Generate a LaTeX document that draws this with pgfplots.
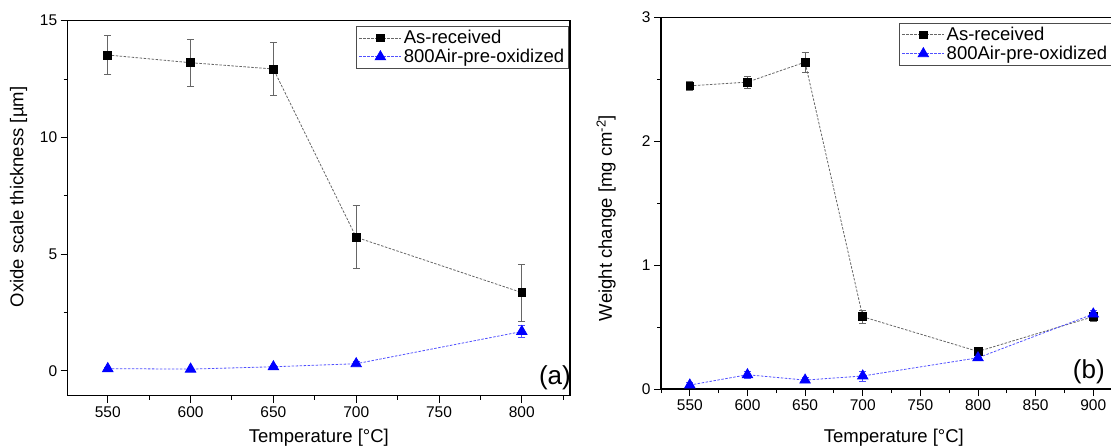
\documentclass[border=0pt]{standalone}
\usepackage{pgfplots}
\usepackage{pgfplotstable}
\pgfplotsset{compat=1.18}
\usepackage{fontspec}
\setmainfont{Liberation Sans}

\pgfplotstableread{
x y ey
550 13.53 0.82
600 13.20 1.00
650 12.93 1.15
700 5.72 1.35
800 3.35 1.22
}\leftA
\pgfplotstableread{
x y ey
550 0.09 0.05
600 0.07 0.05
650 0.17 0.06
700 0.30 0.08
800 1.68 0.25
}\leftB
\pgfplotstableread{
x y ey
550 2.447 0.036
600 2.477 0.047
650 2.638 0.080
700 0.583 0.050
800 0.303 0.020
900 0.584 0.035
}\rightA
\pgfplotstableread{
x y ey
550 0.032 0.020
600 0.115 0.030
650 0.072 0.020
700 0.105 0.040
800 0.252 0.020
900 0.605 0.030
}\rightB

\definecolor{lineblue}{RGB}{80,80,255}
\pgfplotsset{
  myax/.style={
    scale only axis, anchor=south west,
    axis line style={line width=1.1pt},
    tick align=outside, xtick pos=bottom, ytick pos=left,
    major tick length=7pt, minor tick length=4pt,
    every tick/.style={black, line width=1pt},
    tick label style={font=\fontsize{15.5}{17}\selectfont},
    /pgf/number format/assume math mode=true,
    label style={font=\fontsize{18.5}{20}\selectfont},
    legend cell align=left,
    legend image code/.code={\draw[mark repeat=2,mark phase=2,##1] plot coordinates {(0pt,0pt) (21pt,0pt) (42pt,0pt)};},
    clip=false,
  },
  asrec/.style={color=black!60, line width=0.8pt, dash pattern=on 2.5pt off 1.5pt,
    mark=square*, mark size=3.9pt, mark options={solid, fill=black, draw=black},
    error bars/y dir=both, error bars/y explicit,
    error bars/error bar style={black!60, line width=0.8pt, solid},
    error bars/error mark options={rotate=90, mark size=3.5pt, black!60, line width=0.8pt, solid}},
  preox/.style={color=lineblue, line width=0.8pt, dash pattern=on 2.5pt off 1.5pt,
    mark=triangle*, mark size=6pt, mark options={solid, fill=blue, draw=blue},
    error bars/y dir=both, error bars/y explicit,
    error bars/error bar style={lineblue, line width=0.8pt, solid},
    error bars/error mark options={rotate=90, mark size=3.5pt, lineblue, line width=0.8pt, solid}},
}

\begin{document}
\begin{tikzpicture}[x=1pt,y=1pt]
\useasboundingbox (0,0) rectangle (1111,445);
\clip (0,0) rectangle (1111,445);
\begin{axis}[myax,
  at={(67.7pt,49.3pt)}, width=502.3pt, height=375pt,
  xmin=525.8, xmax=829.1, ymin=-1.07, ymax=15,
  xtick={550,600,650,700,750,800}, minor xtick={525,575,625,675,725,775,825},
  ytick={0,5,10,15}, minor ytick={2.5,7.5,12.5},
  xlabel={Temperature [°C]}, ylabel={Oxide scale thickness [µm]},
  xlabel style={at={(axis description cs:0.5,-0.112)}, anchor=center},
  ylabel style={at={(axis description cs:-0.098,0.53)}, anchor=center},
  legend style={at={(rel axis cs:0.9974,0.986)}, anchor=north east, draw=black!70, line width=1pt,
    font=\fontsize{18.5}{21}\selectfont, inner sep=2pt, row sep=0pt},
]
\addplot[asrec] table[x=x, y=y, y error=ey] {\leftA};
\addlegendentry{As-received}
\addplot[preox] table[x=x, y=y, y error=ey] {\leftB};
\addlegendentry{800Air-pre-oxidized}
\node[anchor=west, font=\fontsize{26}{28}\selectfont, inner sep=0pt] at (rel axis cs:0.938,0.047) {(a)};
\end{axis}
\begin{axis}[myax,
  at={(661pt,56pt)}, width=465.7pt, height=371.7pt,
  xmin=525, xmax=929, ymin=0, ymax=3,
  xtick={550,600,650,700,750,800,850,900}, minor xtick={525,575,625,675,725,775,825,875,925},
  ytick={0,1,2,3}, minor ytick={0.5,1.5,2.5},
  xlabel={Temperature [°C]}, ylabel={Weight change [mg cm\textsuperscript{-2}]},
  xlabel style={at={(axis description cs:0.5,-0.13)}, anchor=center},
  ylabel style={at={(axis description cs:-0.118,0.46)}, anchor=center},
  legend style={at={(rel axis cs:0.512,0.985)}, anchor=north west, draw=black!70, line width=1pt,
    font=\fontsize{18.5}{21}\selectfont, inner sep=2pt, row sep=0pt},
]
\addplot[asrec] table[x=x, y=y, y error=ey] {\rightA};
\addlegendentry{As-received}
\addplot[preox] table[x=x, y=y, y error=ey] {\rightB};
\addlegendentry{800Air-pre-oxidized}
\node[anchor=west, font=\fontsize{26}{28}\selectfont, inner sep=0pt] at (rel axis cs:0.884,0.046) {(b)};
\end{axis}
\end{tikzpicture}
\end{document}
